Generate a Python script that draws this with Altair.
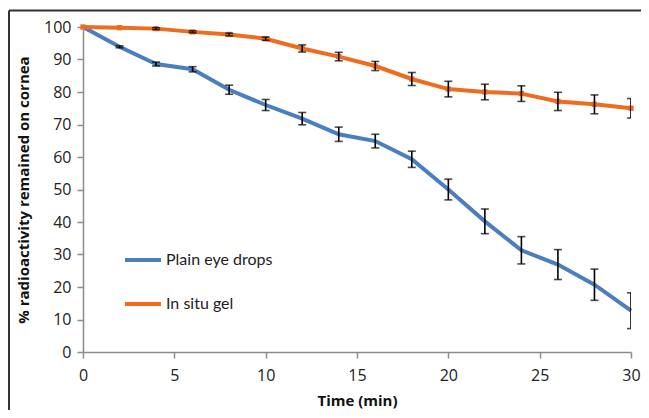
import altair as alt
import pandas as pd

time = [0, 2, 4, 6, 8, 10, 12, 14, 16, 18, 20, 22, 24, 26, 28, 30]
plain = [100, 93.9, 88.6, 87.0, 80.7, 76.0, 71.8, 67.0, 64.9, 59.3, 50.0, 40.2, 31.3, 26.9, 20.7, 12.7]
plain_err = [0, 0.3, 0.6, 0.8, 1.4, 1.7, 1.9, 2.2, 2.1, 2.5, 3.2, 3.8, 4.2, 4.6, 4.8, 5.5]
gel = [100, 99.8, 99.5, 98.5, 97.7, 96.4, 93.4, 90.9, 88.0, 84.0, 80.9, 80.0, 79.5, 77.1, 76.2, 75.0]
gel_err = [0, 0.2, 0.3, 0.3, 0.4, 0.5, 1.1, 1.3, 1.4, 2.0, 2.4, 2.4, 2.4, 2.8, 2.9, 3.0]
series = ["Plain eye drops", "In situ gel"]
colors = ["#4A7EBF", "#EE6C1E"]
marker_colors = ["#3B6CAE", "#C8504A"]
x_ticks = [0, 5, 10, 15, 20, 25, 30]
y_ticks = [0, 10, 20, 30, 40, 50, 60, 70, 80, 90, 100]

rows = []
for name, vals, errs in [(series[0], plain, plain_err), (series[1], gel, gel_err)]:
    for t, v, e in zip(time, vals, errs):
        rows.append({"time": t, "value": v, "lo": v - e, "hi": v + e, "series": name})
df = pd.DataFrame(rows)

FONT = "Open Sans"
xs = alt.Scale(domain=[0, 30], nice=False, zero=False)
ys = alt.Scale(domain=[0, 100], nice=False)
xaxis = alt.Axis(title="Time (min)", values=x_ticks, tickCount=7,
                 labelFlush=False, labelOverlap=False)
yaxis = alt.Axis(title="% radioactivity remained on cornea", tickCount=11,
                 values=y_ticks, labelOverlap=False, labelFlush=False)

base = alt.Chart(df)

lines = base.mark_line(strokeWidth=4).encode(
    x=alt.X("time:Q", scale=xs, axis=xaxis),
    y=alt.Y("value:Q", scale=ys, axis=yaxis),
    color=alt.Color("series:N", sort=series,
                    scale=alt.Scale(domain=series, range=colors),
                    legend=alt.Legend(title=None, orient="none", legendX=40, legendY=213,
                                      symbolType="stroke", symbolSize=1296,
                                      symbolStrokeWidth=4, labelFontSize=16,
                                      labelFont="Lato", labelColor="#222",
                                      labelOffset=3, rowPadding=16, padding=0)),
)

points = base.mark_point(filled=True, shape="square", size=28, opacity=1).encode(
    x=alt.X("time:Q", scale=xs, axis=xaxis),
    y=alt.Y("value:Q", scale=ys, axis=yaxis),
    color=alt.Color("series:N", scale=alt.Scale(domain=series, range=marker_colors), legend=None),
).transform_filter(alt.datum.series == series[1])

err = base.mark_rule(color="black", strokeWidth=1.6, clip=True).encode(
    x=alt.X("time:Q", scale=xs, axis=xaxis),
    y=alt.Y("lo:Q", scale=ys, axis=yaxis),
    y2="hi:Q",
).transform_filter(alt.datum.hi - alt.datum.lo > 0.5)

cap_lo = base.mark_tick(color="black", thickness=1.6, size=8, orient="horizontal", clip=True).encode(
    x=alt.X("time:Q", scale=xs, axis=xaxis),
    y=alt.Y("lo:Q", scale=ys, axis=yaxis),
).transform_filter(alt.datum.hi - alt.datum.lo > 0.5)

cap_hi = base.mark_tick(color="black", thickness=1.6, size=8, orient="horizontal", clip=True).encode(
    x=alt.X("time:Q", scale=xs, axis=xaxis),
    y=alt.Y("hi:Q", scale=ys, axis=yaxis),
).transform_filter(alt.datum.hi - alt.datum.lo > 0.5)

frame_df = pd.DataFrame({"k": [0]})
frame_top = alt.Chart(frame_df).mark_rule(color="#333333", strokeWidth=2).encode(
    x=alt.value(-74), x2=alt.value(570), y=alt.value(-16.5))
frame_left = alt.Chart(frame_df).mark_rule(color="#333333", strokeWidth=2).encode(
    x=alt.value(-74), y=alt.value(-16.5), y2=alt.value(395))

chart = alt.layer(lines, points, err, cap_lo, cap_hi, frame_top, frame_left).properties(
    width=548, height=325,
    autosize=alt.AutoSizeParams(type="none"),
    padding={"left": 75, "top": 19, "right": 10, "bottom": 58},
).configure_view(stroke=None).configure_axis(
    grid=False, domainColor="#8C8C8C", domainWidth=1.5, tickColor="#8C8C8C", tickWidth=1.5,
    tickSize=6, labelFont=FONT, labelFontSize=16, labelColor="#222",
    titleFont=FONT, titleFontSize=15, titleFontWeight="bold", titleColor="#111",
).configure_axisY(labelPadding=6, titlePadding=12).configure_axisX(labelPadding=9, titlePadding=10)

chart.save("out.html", embed_options={"renderer": "svg", "actions": False})
